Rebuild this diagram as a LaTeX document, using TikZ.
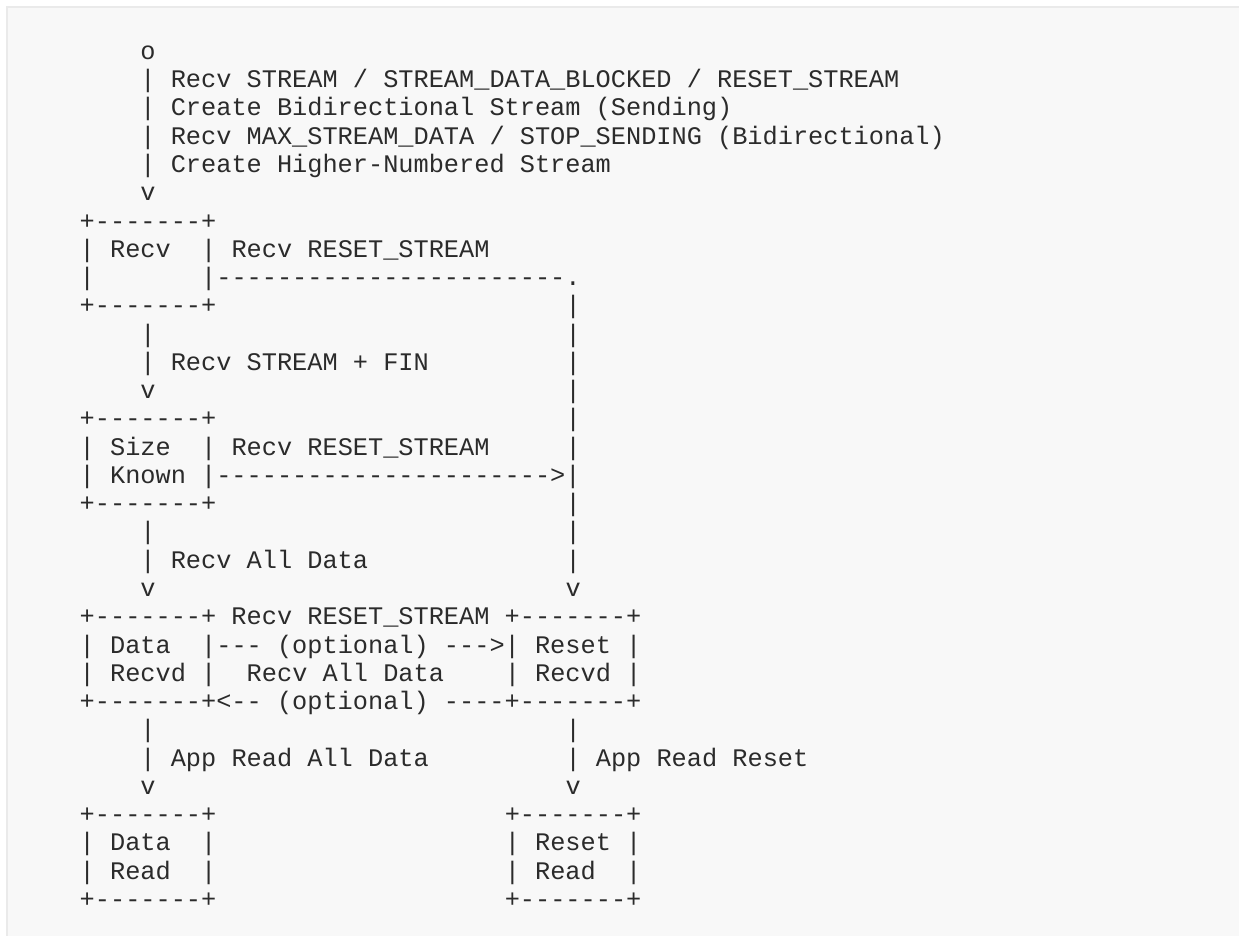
\documentclass[tikz,border=0pt]{standalone}
\usepackage{fontspec}
\setmonofont{Liberation Mono}
\definecolor{ink}{HTML}{2B2B2B}
\definecolor{panel}{HTML}{F8F8F8}
\definecolor{frame}{HTML}{EAEAEA}
\tikzset{
  ascii/.style={anchor=base west, inner sep=0pt, outer sep=0pt, text=ink,
    font=\ttfamily\fontsize{18.97pt}{21pt}\selectfont}
}
\begin{document}
\begin{tikzpicture}[x=11.385pt, y=-21.2pt]
  % Background
  \useasboundingbox (0pt,0pt) rectangle (929.25pt,-702pt);
  \fill[white] (0pt,0pt) rectangle (929.25pt,-702pt);
  \fill[panel] (5.25pt,-5.25pt) rectangle (929.25pt,-702pt);
  \draw[frame, line width=1.5pt] (5.25pt,-702pt) -- (5.25pt,-5.25pt) -- (929.25pt,-5.25pt);
  \begin{scope}[shift={(25.65pt,-23.35pt)}]
  % Opening
  \node (start) [ascii] at (7, 1) {o};
  \node (open-1) [ascii] at (7, 2) {| Recv STREAM / STREAM\_DATA\_BLOCKED / RESET\_STREAM};
  \node (open-2) [ascii] at (7, 3) {| Create Bidirectional Stream (Sending)};
  \node (open-3) [ascii] at (7, 4) {| Recv MAX\_STREAM\_DATA / STOP\_SENDING (Bidirectional)};
  \node (open-4) [ascii] at (7, 5) {| Create Higher-Numbered Stream};
  \node (open-v) [ascii] at (7, 6) {v};
  % Recv
  \node (recv-top) [ascii] at (3, 7) {+-------+};
  \node (recv-name) [ascii] at (3, 8) {| Recv};
  \node (recv-label) [ascii] at (11, 8) {| Recv RESET\_STREAM};
  \node (recv-side) [ascii] at (3, 9) {|};
  \node (recv-reset) [ascii] at (11, 9) {|-----------------------.};
  \node (recv-bottom) [ascii] at (3, 10) {+-------+};
  \node (fin-1) [ascii] at (7, 11) {|};
  \node (fin-2) [ascii] at (7, 12) {| Recv STREAM + FIN};
  \node (fin-v) [ascii] at (7, 13) {v};
  % Size Known
  \node (known-top) [ascii] at (3, 14) {+-------+};
  \node (known-name) [ascii] at (3, 15) {| Size};
  \node (known-label) [ascii] at (11, 15) {| Recv RESET\_STREAM};
  \node (known-reset) [ascii] at (3, 16) {| Known |---------------------->|};
  \node (known-bottom) [ascii] at (3, 17) {+-------+};
  \node (all-1) [ascii] at (7, 18) {|};
  \node (all-2) [ascii] at (7, 19) {| Recv All Data};
  \node (all-v) [ascii] at (7, 20) {v};
  % Reset rail
  \foreach \r in {10,11,12,13,14,15,17,18,19}
    \node (rail-\r) [ascii] at (35, \r) {|};
  \node (rail-v) [ascii] at (35, 20) {v};
  % Data Recvd / Reset Recvd
  \node (recvd-top) [ascii] at (3, 21) {+-------+ Recv RESET\_STREAM +-------+};
  \node (recvd-data) [ascii] at (3, 22) {| Data};
  \node (recvd-opt) [ascii] at (11, 22) {|--- (optional) --->| Reset |};
  \node (recvd-left) [ascii] at (3, 23) {| Recvd |};
  \node (recvd-label) [ascii] at (14, 23) {Recv All Data};
  \node (recvd-right) [ascii] at (31, 23) {| Recvd |};
  \node (recvd-bottom) [ascii] at (3, 24) {+-------+<-- (optional) ----+-------+};
  % App Read
  \node (read-1) [ascii] at (7, 25) {|};
  \node (reset-1) [ascii] at (35, 25) {|};
  \node (read-2) [ascii] at (7, 26) {| App Read All Data};
  \node (reset-2) [ascii] at (35, 26) {| App Read Reset};
  \node (read-v) [ascii] at (7, 27) {v};
  \node (reset-v) [ascii] at (35, 27) {v};
  % Data Read / Reset Read
  \node (dread-top) [ascii] at (3, 28) {+-------+};
  \node (rread-top) [ascii] at (31, 28) {+-------+};
  \node (dread-name) [ascii] at (3, 29) {| Data};
  \node (dread-side) [ascii] at (11, 29) {|};
  \node (rread-name) [ascii] at (31, 29) {| Reset |};
  \node (dread-name2) [ascii] at (3, 30) {| Read};
  \node (dread-side2) [ascii] at (11, 30) {|};
  \node (rread-name2) [ascii] at (31, 30) {| Read};
  \node (rread-side2) [ascii] at (39, 30) {|};
  \node (dread-bottom) [ascii] at (3, 31) {+-------+};
  \node (rread-bottom) [ascii] at (31, 31) {+-------+};
  \end{scope}
\end{tikzpicture}
\end{document}
